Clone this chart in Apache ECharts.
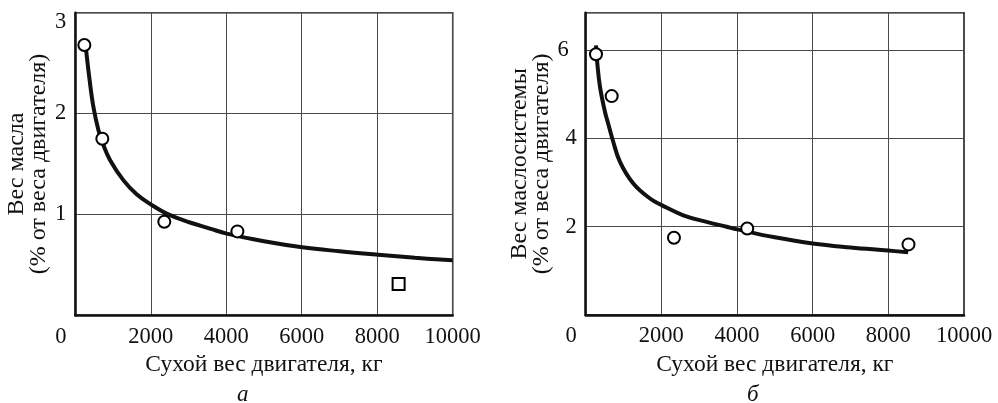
<!DOCTYPE html>
<html>
<head>
<meta charset="utf-8">
<script src="https://cdn.jsdelivr.net/npm/echarts@6/dist/echarts.min.js"></script>
<style>
html,body{margin:0;padding:0;background:#fff;}
#c{width:998px;height:403px;}
</style>
</head>
<body>
<div id="c"></div>
<script>
// ---- data ----
var xTickLabels = [0, 2000, 4000, 6000, 8000, 10000];
var leftYTickLabels = [1, 2, 3];
var rightYTickLabels = [2, 4, 6];

// left panel (а)
var leftCurveX = [283, 380, 478, 610, 742, 919, 1272, 1625, 1997, 2464, 3038, 3568, 4010, 5000, 6013, 7000, 8026, 9000, 10000];
var leftCurveY = [2.64, 2.33, 2.07, 1.84, 1.69, 1.54, 1.34, 1.20, 1.10, 1.00, 0.92, 0.86, 0.81, 0.735, 0.675, 0.635, 0.600, 0.570, 0.545];
var leftCircleX = [240, 716, 2358, 4295];
var leftCircleY = [2.68, 1.75, 0.927, 0.832];
var leftSquareX = [8567];
var leftSquareY = [0.31];

// right panel (б)
var rightCurveX = [272, 307, 378, 510, 597, 703, 906, 1258, 1699, 2008, 2579, 3197, 3725, 4005, 5000, 5997, 7000, 7995, 8523];
var rightCurveY = [6.11, 5.70, 5.17, 4.60, 4.33, 4.00, 3.47, 2.98, 2.64, 2.49, 2.26, 2.11, 2.00, 1.94, 1.76, 1.62, 1.53, 1.46, 1.42];
var rightCircleX = [272, 687, 2333, 4270, 8533];
var rightCircleY = [5.91, 4.96, 1.75, 1.96, 1.60];

var xName = 'Сухой вес двигателя, кг';
var leftYName = 'Вес масла\n(% от веса двигателя)';
var rightYName = 'Вес маслосистемы\n(% от веса двигателя)';

function zip(a, b) { return a.map(function (v, i) { return [v, b[i]]; }); }

var FONT = '"Liberation Serif", "DejaVu Serif", serif';
var TXT = '#111';

function xAxisCfg(gi) {
  return {
    type: 'value', gridIndex: gi, min: 0, max: 10000, interval: 2000,
    name: xName, nameLocation: 'middle', nameGap: 38,
    nameTextStyle: { fontFamily: FONT, fontSize: 23.5, color: TXT },
    axisLine: { show: true, onZero: false, lineStyle: { color: '#111', width: 2.5 } },
    axisTick: { show: false },
    splitLine: { show: true, lineStyle: { color: '#4a4a4a', width: 1 } },
    axisLabel: {
      margin: 10, fontFamily: FONT, fontSize: 22.5, color: TXT,
      formatter: function (v) {
        if (xTickLabels.indexOf(v) < 0) return '';
        if (v === 0) return '{z|0}';
        return String(v);
      },
      rich: { z: { fontFamily: FONT, fontSize: 22.5, color: TXT, padding: [0, 29, 0, 0] } }
    }
  };
}

function yAxisCfg(gi, max, interval, name, gap, ticks, shiftTop, shiftLeft) {
  return {
    type: 'value', gridIndex: gi, min: 0, max: max, interval: interval,
    name: name, nameLocation: 'middle', nameGap: gap, nameRotate: 90,
    nameTextStyle: { fontFamily: FONT, fontSize: 24, lineHeight: 22, color: TXT },
    axisLine: { show: true, onZero: false, lineStyle: { color: '#111', width: 2.5 } },
    axisTick: { show: false },
    splitLine: { show: true, lineStyle: { color: '#4a4a4a', width: 1 } },
    axisLabel: {
      margin: 9, fontFamily: FONT, fontSize: 22.5, color: TXT,
      formatter: function (v) {
        if (ticks.indexOf(v) < 0) return '';
        if (v === ticks[ticks.length - 1]) return '{t|' + v + '}';
        return String(v);
      },
      rich: { t: { fontFamily: FONT, fontSize: 22.5, color: TXT, padding: [shiftTop, shiftLeft, 0, 0] } }
    }
  };
}

function curveSeries(xi, yi, x, y) {
  return {
    type: 'line', xAxisIndex: xi, yAxisIndex: yi, data: zip(x, y),
    smooth: 0.4, symbol: 'none', silent: true,
    lineStyle: { color: '#111', width: 4 }, z: 3
  };
}
function markSeries(xi, yi, x, y, sym, size) {
  return {
    type: 'scatter', xAxisIndex: xi, yAxisIndex: yi, data: zip(x, y),
    symbol: sym, symbolSize: size, silent: true,
    itemStyle: { color: '#fff', borderColor: '#000', borderWidth: 2, opacity: 1 }, z: 4
  };
}

var chart = echarts.init(document.getElementById('c'), null, { renderer: 'canvas' });
chart.setOption({
  animation: false,
  backgroundColor: '#fff',
  title: [
    { text: 'а', left: 232, top: 378, textStyle: { fontFamily: FONT, fontSize: 23, fontStyle: 'italic', fontWeight: 'normal', color: TXT } },
    { text: 'б', left: 742, top: 378, textStyle: { fontFamily: FONT, fontSize: 23, fontStyle: 'italic', fontWeight: 'normal', color: TXT } }
  ],
  grid: [
    { left: 75.3, top: 12.7, width: 377.4, height: 302.6, show: true, borderColor: '#111', borderWidth: 1.5, backgroundColor: 'transparent' },
    { left: 585.7, top: 12.7, width: 378.3, height: 302.3, show: true, borderColor: '#111', borderWidth: 1.5, backgroundColor: 'transparent' }
  ],
  xAxis: [xAxisCfg(0), xAxisCfg(1)],
  yAxis: [
    yAxisCfg(0, 3, 1, leftYName, 24, leftYTickLabels, 18, 0),
    yAxisCfg(1, 6.85, 2, rightYName, 26, rightYTickLabels, 0, 8)
  ],
  series: [
    curveSeries(0, 0, leftCurveX, leftCurveY),
    markSeries(0, 0, leftCircleX, leftCircleY, 'circle', 12),
    markSeries(0, 0, leftSquareX, leftSquareY, 'rect', 12),
    curveSeries(1, 1, rightCurveX, rightCurveY),
    markSeries(1, 1, rightCircleX, rightCircleY, 'circle', 12)
  ]
});
</script>
</body>
</html>
